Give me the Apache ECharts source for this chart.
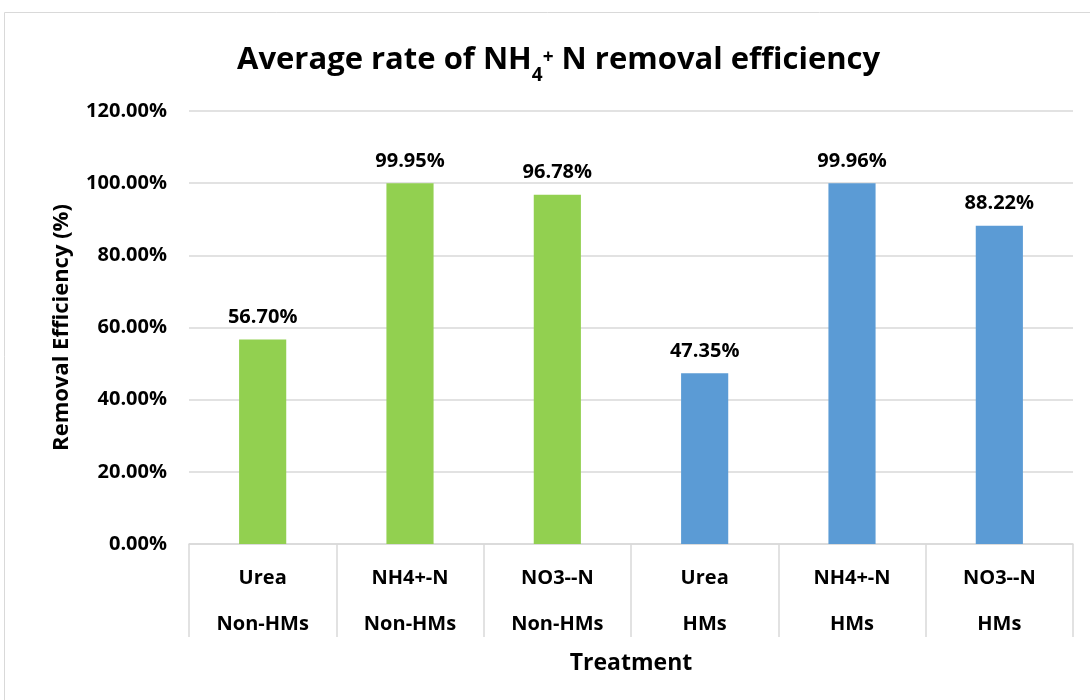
<!DOCTYPE html>
<html>
<head>
<meta charset="utf-8">
<script src="https://cdn.jsdelivr.net/npm/echarts@6/dist/echarts.min.js"></script>
<style>html,body{margin:0;padding:0;background:#fff;}#c{width:1090px;height:700px;}</style>
</head>
<body>
<div id="c"></div>
<script>
const treatments = ['Urea', 'NH4+-N', 'NO3--N', 'Urea', 'NH4+-N', 'NO3--N'];
const groups = ['Non-HMs', 'Non-HMs', 'Non-HMs', 'HMs', 'HMs', 'HMs'];
const values = [56.70, 99.95, 96.78, 47.35, 99.96, 88.22];
const yTicks = [0, 20, 40, 60, 80, 100, 120];

const FONT = '"Open Sans"';
const groupColor = { 'Non-HMs': '#92D050', 'HMs': '#5B9BD5' };
const categories = treatments.map((t, i) => t + '\n' + groups[i]);

const chart = echarts.init(document.getElementById('c'));
chart.setOption({
  backgroundColor: '#fff',
  animation: false,
  graphic: [{
    type: 'rect', shape: { x: 4.5, y: 12.5, width: 1200, height: 800 },
    style: { fill: 'none', stroke: '#d9d9d9', lineWidth: 1 }, silent: true
  }],
  title: {
    text: '{t|Average rate of NH}{sub|4}{sup|+}{t| N removal efficiency}',
    left: 232, top: 30,
    textStyle: {
      rich: {
        t: { fontFamily: FONT, fontWeight: 'bold', fontSize: 31, color: '#000', lineHeight: 50, verticalAlign: 'middle' },
        sub: { fontFamily: FONT, fontWeight: 'bold', fontSize: 19, color: '#000', lineHeight: 22, verticalAlign: 'bottom' },
        sup: { fontFamily: FONT, fontWeight: 'bold', fontSize: 19, color: '#000', lineHeight: 19, verticalAlign: 'bottom', padding: [0, 0, 18, 0] }
      }
    }
  },
  grid: { left: 189, right: 17, top: 111, bottom: 156, containLabel: false },
  xAxis: {
    type: 'category',
    data: categories,
    name: 'Treatment',
    nameLocation: 'middle',
    nameGap: 104,
    nameTextStyle: { fontFamily: FONT, fontWeight: 'bold', fontSize: 23, color: '#000' },
    axisLine: { lineStyle: { color: '#d9d9d9', width: 1.5 } },
    axisTick: { show: true, length: 93, interval: 0, lineStyle: { color: '#d9d9d9', width: 1.5 } },
    axisLabel: { interval: 0, margin: 11, lineHeight: 46, fontFamily: FONT, fontWeight: 'bold', fontSize: 20, color: '#000' }
  },
  yAxis: {
    type: 'value',
    min: 0, max: 120, interval: 20,
    name: 'Removal Efficiency (%)',
    nameLocation: 'middle',
    nameRotate: 90,
    nameGap: 116,
    nameTextStyle: { fontFamily: FONT, fontWeight: 'bold', fontSize: 22, color: '#000' },
    axisLine: { show: false },
    axisTick: { show: false },
    splitLine: { lineStyle: { color: '#d9d9d9', width: 1.5 } },
    axisLabel: {
      margin: 22, fontFamily: FONT, fontWeight: 'bold', fontSize: 20, color: '#000',
      formatter: v => (yTicks.indexOf(v) >= 0 ? v.toFixed(2) + '%' : '')
    }
  },
  series: [{
    type: 'bar',
    barWidth: '32%',
    data: values.map((v, i) => ({ value: v, itemStyle: { color: groupColor[groups[i]] } })),
    label: {
      show: true, position: 'top', distance: 12,
      fontFamily: FONT, fontWeight: 'bold', fontSize: 20, color: '#000',
      formatter: p => p.value.toFixed(2) + '%'
    }
  }]
});
</script>
</body>
</html>
